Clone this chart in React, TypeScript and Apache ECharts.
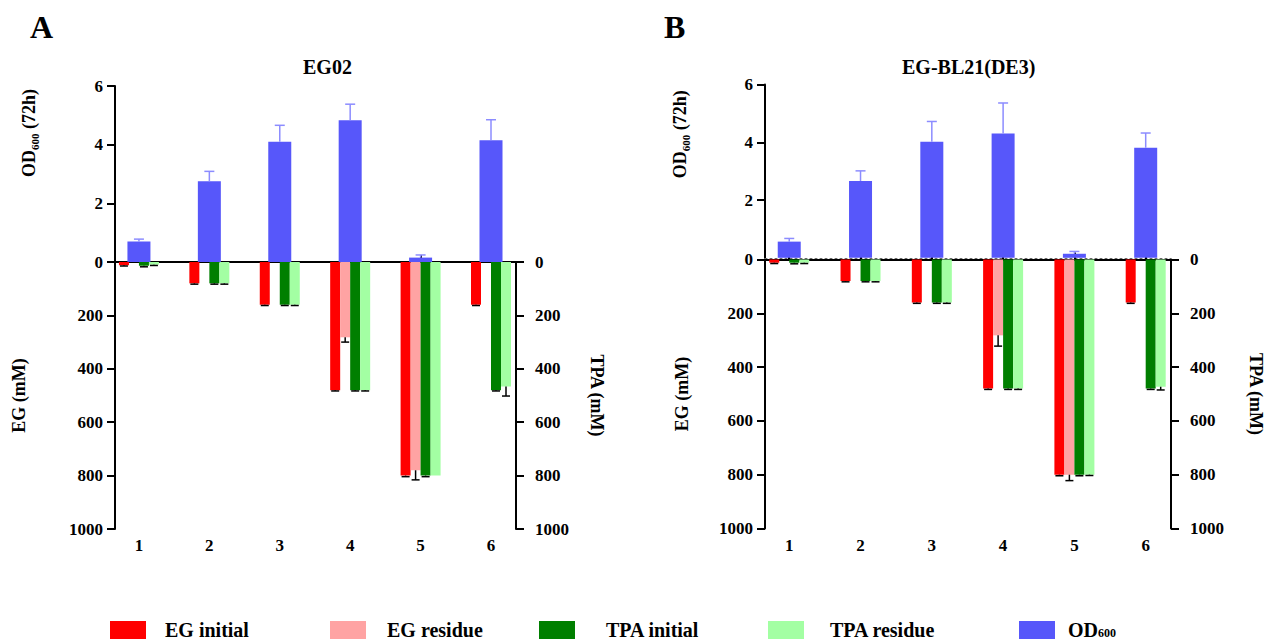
import React, { useEffect, useRef } from "react";
import * as echarts from "echarts";

// ---------- data ----------
const categories = [1, 2, 3, 4, 5, 6];

// Panel A: EG02
const odA = [0.7, 2.75, 4.1, 4.83, 0.15, 4.15];
const odErrA = [0.08, 0.34, 0.56, 0.55, 0.09, 0.7];
const egInitA = [12, 80, 160, 480, 800, 160];
const egInitErrA = [3, 3, 3, 3, 4, 3];
const egResA = [0, 0, 0, 282, 780, 0];
const egResErrA = [0, 0, 0, 18, 36, 0];
const tpaInitA = [14, 80, 160, 480, 800, 480];
const tpaInitErrA = [4, 3, 3, 3, 4, 3];
const tpaResA = [10, 80, 160, 480, 800, 466];
const tpaResErrA = [3, 3, 3, 3, 0, 36];

// Panel B: EG-BL21(DE3)
const odB = [0.56, 2.66, 4.02, 4.3, 0.14, 3.81];
const odErrB = [0.11, 0.35, 0.7, 1.06, 0.08, 0.51];
const egInitB = [12, 80, 160, 480, 800, 160];
const egInitErrB = [3, 3, 3, 3, 4, 3];
const egResB = [0, 0, 0, 282, 800, 0];
const egResErrB = [0, 0, 0, 40, 22, 0];
const tpaInitB = [12, 80, 160, 480, 800, 480];
const tpaInitErrB = [4, 3, 3, 3, 4, 3];
const tpaResB = [12, 80, 160, 480, 800, 473];
const tpaResErrB = [3, 3, 3, 3, 3, 12];

const odTickMax = 6;
const mmTickMax = 1000;

// ---------- styles ----------
const FONT = "'Liberation Serif', 'Times New Roman', serif";
const COL = {
  egInit: "#FF0000",
  egRes: "#FFA3A3",
  tpaInit: "#007F00",
  tpaRes: "#A3FFA3",
  od: "#5757FA",
  odErr: "#8C8CFF",
};
const NAMES = ["EG initial", "EG residue", "TPA initial", "TPA residue", "OD600"];

const xMin = 0.66;
const xMax = 6.355;

const boldText = (size: number) => ({
  fontFamily: FONT,
  fontWeight: "bold" as const,
  fontSize: size,
  color: "#000",
});

const axisLineStyle = { show: true, lineStyle: { color: "#000", width: 2 } };
const plainNum = (v: number) => String(v);

function errorSeries(
  xAxisIndex: number,
  yAxisIndex: number,
  vals: number[],
  errs: number[],
  offset: number,
  color: string,
  capW: number,
  lw: number
) {
  return {
    type: "custom",
    xAxisIndex,
    yAxisIndex,
    silent: true,
    z: 5,
    data: categories.map((c, i) => [c, vals[i], errs[i]]),
    renderItem: (params: any, api: any) => {
      const x = api.value(0);
      const y = api.value(1);
      const e = api.value(2);
      if (!e) return null;
      const p0 = api.coord([x, y]);
      const p1 = api.coord([x, y + e]);
      const cx = p0[0] + offset;
      return {
        type: "group",
        children: [
          {
            type: "line",
            shape: { x1: cx, y1: p0[1], x2: cx, y2: p1[1] },
            style: { stroke: color, lineWidth: lw },
          },
          {
            type: "line",
            shape: { x1: cx - capW / 2, y1: p1[1], x2: cx + capW / 2, y2: p1[1] },
            style: { stroke: color, lineWidth: lw },
          },
        ],
      };
    },
  };
}

type PanelLayout = {
  left: number;
  width: number;
  upTop: number;
  upBottom: number;
  zeroY: number;
  bottomY: number;
  odGap: number;
  odShift: number;
  egGap: number;
  tpaGap: number;
  dottedZero: boolean;
};

function buildPanel(
  p: number,
  L: PanelLayout,
  d: {
    od: number[];
    odErr: number[];
    egInit: number[];
    egInitErr: number[];
    egRes: number[];
    egResErr: number[];
    tpaInit: number[];
    tpaInitErr: number[];
    tpaRes: number[];
    tpaResErr: number[];
  }
) {
  const g0 = p * 2;
  const g1 = p * 2 + 1;
  const x0 = p * 3;
  const xb = p * 3 + 1;
  const yOd = p * 3;
  const yEg = p * 3 + 1;
  const yTpa = p * 3 + 2;

  const grids = [
    { left: L.left, width: L.width, top: L.upTop, height: L.upBottom - L.upTop, containLabel: false },
    { left: L.left, width: L.width, top: L.zeroY, height: L.bottomY - L.zeroY, containLabel: false },
  ];

  const xAxes = [
    L.dottedZero
      ? {
          type: "value",
          gridIndex: g0,
          min: xMin,
          max: xMax,
          axisLine: { show: true, lineStyle: { color: "#666", width: 1, type: [2, 3] } },
          axisTick: { show: false },
          axisLabel: { show: false },
          splitLine: { show: false },
        }
      : { type: "value", gridIndex: g0, min: xMin, max: xMax, show: false },
    {
      type: "value",
      gridIndex: g1,
      position: "bottom",
      min: xMin,
      max: xMax,
      axisLine: axisLineStyle,
      axisTick: { show: true, inside: true, length: 7, customValues: categories, lineStyle: { color: "#000", width: 2 } },
      axisLabel: { ...boldText(17), margin: 8, customValues: categories, formatter: plainNum },
      splitLine: { show: false },
    },
    {
      type: "value",
      gridIndex: g1,
      position: "top",
      min: xMin,
      max: xMax,
      axisLine: axisLineStyle,
      axisTick: { show: false },
      axisLabel: { show: false },
      splitLine: { show: false },
    },
  ];

  const yAxes = [
    {
      type: "value",
      gridIndex: g0,
      position: "left",
      min: 0,
      max: odTickMax,
      interval: 2,
      axisLine: axisLineStyle,
      axisTick: { show: true, length: 8, lineStyle: { color: "#000", width: 2 } },
      axisLabel: { ...boldText(17), margin: 12, showMinLabel: false, formatter: plainNum },
      splitLine: { show: false },
      name: "{b|OD}{s|600}{b| (72h)}",
      nameLocation: "middle",
      nameRotate: 90,
      nameGap: L.odGap,
      nameTextStyle: {
        ...boldText(18),
        padding: [0, 0, 0, L.odShift],
        rich: {
          b: { ...boldText(18), lineHeight: 22 },
          s: { ...boldText(11), lineHeight: 12, verticalAlign: "bottom" },
        },
      },
    },
    {
      type: "value",
      gridIndex: g1,
      position: "left",
      min: 0,
      max: mmTickMax,
      interval: 200,
      inverse: true,
      axisLine: axisLineStyle,
      axisTick: { show: true, length: 8, lineStyle: { color: "#000", width: 2 } },
      axisLabel: { ...boldText(17), margin: 12, formatter: plainNum },
      splitLine: { show: false },
      name: "EG (mM)",
      nameLocation: "middle",
      nameRotate: 90,
      nameGap: L.egGap,
      nameTextStyle: boldText(18),
    },
    {
      type: "value",
      gridIndex: g1,
      position: "right",
      min: 0,
      max: mmTickMax,
      interval: 200,
      inverse: true,
      axisLine: axisLineStyle,
      axisTick: { show: true, length: 8, lineStyle: { color: "#000", width: 2 } },
      axisLabel: { ...boldText(17), margin: 19, formatter: plainNum },
      splitLine: { show: false },
      name: "TPA (mM)",
      nameLocation: "middle",
      nameRotate: -90,
      nameGap: L.tpaGap,
      nameTextStyle: boldText(18),
    },
  ];

  const pts = (v: number[]) => categories.map((c, i) => [c, v[i]]);
  const lowerBar = (name: string, color: string, vals: number[], yIdx: number) => ({
    type: "bar",
    name,
    xAxisIndex: xb,
    yAxisIndex: yIdx,
    barWidth: 10,
    barGap: "0%",
    itemStyle: { color },
    data: pts(vals),
    z: 2,
  });

  const series = [
    {
      type: "bar",
      name: "OD600",
      xAxisIndex: x0,
      yAxisIndex: yOd,
      barWidth: 23,
      itemStyle: { color: COL.od },
      data: pts(d.od),
      z: 2,
    },
    errorSeries(x0, yOd, d.od, d.odErr, 0, COL.odErr, 10, 1.5),
    lowerBar("EG initial", COL.egInit, d.egInit, yEg),
    lowerBar("EG residue", COL.egRes, d.egRes, yEg),
    lowerBar("TPA initial", COL.tpaInit, d.tpaInit, yTpa),
    lowerBar("TPA residue", COL.tpaRes, d.tpaRes, yTpa),
    errorSeries(xb, yEg, d.egInit, d.egInitErr, -15, "#000", 8, 1.5),
    errorSeries(xb, yEg, d.egRes, d.egResErr, -5, "#000", 8, 1.5),
    errorSeries(xb, yTpa, d.tpaInit, d.tpaInitErr, 5, "#000", 8, 1.5),
    errorSeries(xb, yTpa, d.tpaRes, d.tpaResErr, 15, "#000", 8, 1.5),
  ];

  return { grids, xAxes, yAxes, series };
}

export default function App() {
  const ref = useRef<HTMLDivElement>(null);

  useEffect(() => {
    document.body.style.margin = "0";
    if (!ref.current) return;
    const chart = echarts.init(ref.current, null, { renderer: "svg" });

    const A = buildPanel(
      0,
      {
        left: 115, width: 401, upTop: 86, upBottom: 262, zeroY: 262, bottomY: 529,
        odGap: 75, odShift: 82, egGap: 87, tpaGap: 72, dottedZero: false,
      },
      {
        od: odA, odErr: odErrA,
        egInit: egInitA, egInitErr: egInitErrA,
        egRes: egResA, egResErr: egResErrA,
        tpaInit: tpaInitA, tpaInitErr: tpaInitErrA,
        tpaRes: tpaResA, tpaResErr: tpaResErrA,
      }
    );
    const B = buildPanel(
      1,
      {
        left: 765, width: 406, upTop: 84.5, upBottom: 257.8, zeroY: 259.5, bottomY: 528.5,
        odGap: 74, odShift: 74, egGap: 74.5, tpaGap: 76, dottedZero: true,
      },
      {
        od: odB, odErr: odErrB,
        egInit: egInitB, egInitErr: egInitErrB,
        egRes: egResB, egResErr: egResErrB,
        tpaInit: tpaInitB, tpaInitErr: tpaInitErrB,
        tpaRes: tpaResB, tpaResErr: tpaResErrB,
      }
    );

    const legendLefts = [110, 330, 539, 768, 1019];
    const legendPads = [14, 16, 26, 21, 8];
    const legendColors = [COL.egInit, COL.egRes, COL.tpaInit, COL.tpaRes, COL.od];

    const legends = NAMES.map((n, i) => ({
      data: [{ name: n, itemStyle: { color: legendColors[i] } }],
      left: legendLefts[i],
      top: 620,
      padding: 0,
      orient: "horizontal",
      itemWidth: 36,
      itemHeight: 18,
      icon: "rect",
      selectedMode: false,
      formatter: (name: string) => (name === "OD600" ? "{b|OD}{s|600}" : "{b|" + name + "}"),
      textStyle: {
        ...boldText(20),
        lineHeight: 18,
        padding: [0, 0, 0, legendPads[i]],
        rich: {
          b: { ...boldText(20), lineHeight: 18 },
          s: { ...boldText(12), lineHeight: 10, verticalAlign: "bottom" },
        },
      },
    }));

    chart.setOption({
      animation: false,
      backgroundColor: "#fff",
      title: [
        { text: "A", left: 25, top: 6, textStyle: boldText(32) },
        { text: "B", left: 659, top: 6, textStyle: boldText(32) },
        { text: "EG02", left: 298, top: 52, textStyle: boldText(20) },
        { text: "EG-BL21(DE3)", left: 897, top: 52, textStyle: boldText(20) },
      ],
      legend: legends,
      tooltip: { show: false },
      grid: [...A.grids, ...B.grids],
      xAxis: [...A.xAxes, ...B.xAxes],
      yAxis: [...A.yAxes, ...B.yAxes],
      series: [...A.series, ...B.series],
    });

    return () => chart.dispose();
  }, []);

  return <div ref={ref} style={{ width: 1266, height: 642, background: "#fff" }} />;
}
